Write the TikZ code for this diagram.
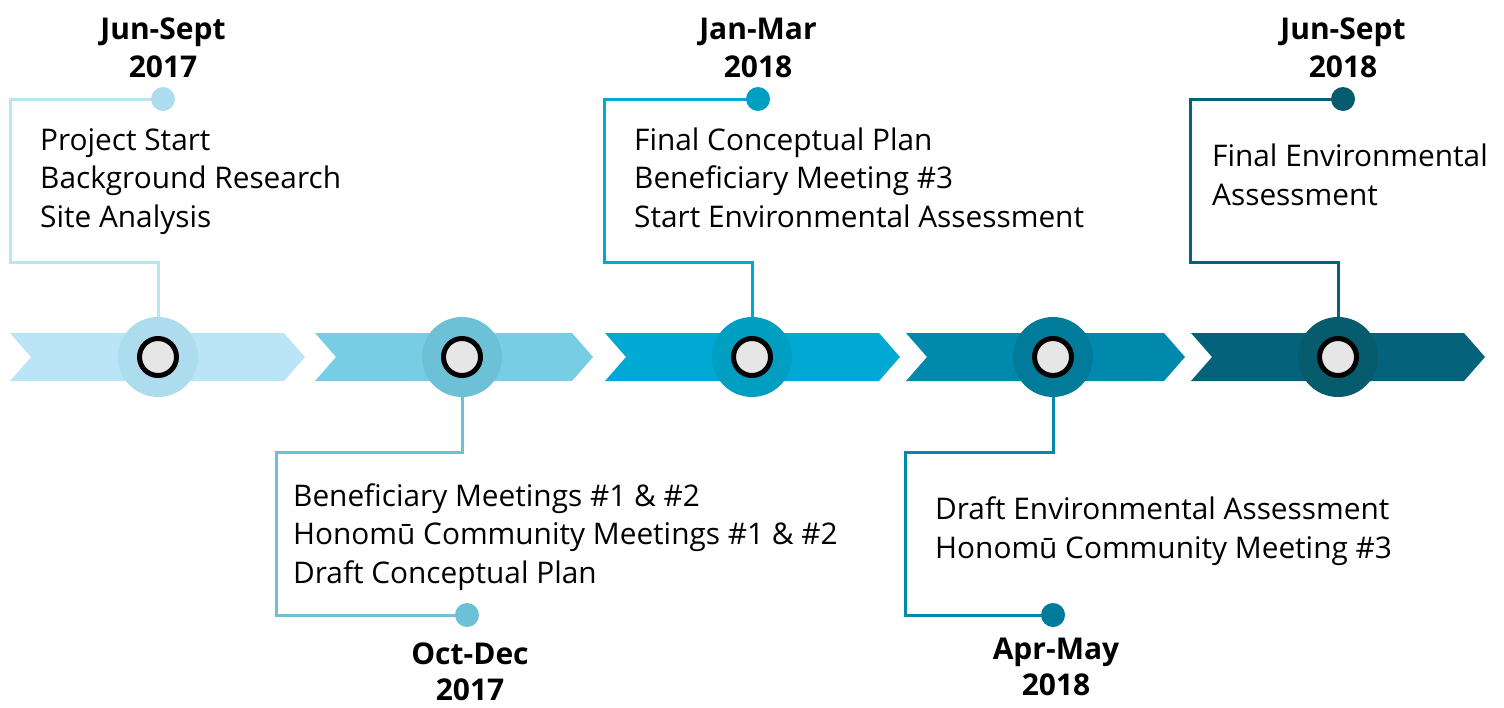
\documentclass[tikz,border=0pt]{standalone}
\usepackage{fontspec}
\setmainfont{Open Sans}
\usetikzlibrary{backgrounds}
\definecolor{chA}{HTML}{B9E5F7}\definecolor{ciA}{HTML}{ADDCEE}
\definecolor{chB}{HTML}{77CDE3}\definecolor{ciB}{HTML}{6CC1D6}
\definecolor{chC}{HTML}{00A9D4}\definecolor{ciC}{HTML}{009FC2}
\definecolor{chD}{HTML}{0088AD}\definecolor{ciD}{HTML}{007B9A}
\definecolor{chE}{HTML}{04627A}\definecolor{ciE}{HTML}{065B6C}
\definecolor{hubfill}{HTML}{E6E6E6}
\tikzset{
  bigdot/.style={circle,fill=#1,minimum size=80pt,inner sep=0pt},
  hub/.style={circle,draw=black,line width=5pt,fill=hubfill,minimum size=37pt,inner sep=0pt},
  smalldot/.style={circle,fill=#1,minimum size=24pt,inner sep=0pt},
  conn/.style={draw=#1,line width=3pt},
  body/.style={font=\fontsize{29.8}{38.5}\selectfont,align=left,anchor=base west,inner sep=0pt},
  datelbl/.style={font=\fontsize{30}{36}\selectfont\bfseries,align=center,anchor=base,inner sep=0pt},
}
\newcommand{\chev}[3]{\fill[#1] (#2,333) -- (#3-21,333) -- (#3,357) -- (#3-21,381) -- (#2,381) -- (#2+21,357) -- cycle;}
\begin{document}
\begin{tikzpicture}[x=1pt,y=-1pt]
\useasboundingbox (0,0) rectangle (1504,707);
% hubs
\node[bigdot=ciA] (b1) at (158,357) {};
\node[bigdot=ciB] (b2) at (462,357) {};
\node[bigdot=ciC] (b3) at (752,357) {};
\node[bigdot=ciD] (b4) at (1053,357) {};
\node[bigdot=ciE] (b5) at (1338,357) {};
\foreach \i/\x in {1/158,2/462,3/752,4/1053,5/1338} \node[hub] (h\i) at (\x,357) {};
% small dots
\node[smalldot=ciA] (d1) at (163,99) {};
\node[smalldot=ciB] (d2) at (467,615) {};
\node[smalldot=ciC] (d3) at (758,99) {};
\node[smalldot=ciD] (d4) at (1053,615) {};
\node[smalldot=ciE] (d5) at (1343,99) {};
% corner coordinates
\coordinate (k1) at (10,262);
\coordinate (k2) at (276,452);
\coordinate (k3) at (604,262);
\coordinate (k4) at (905,452);
\coordinate (k5) at (1190,262);
\begin{pgfonlayer}{background}
\fill[white] (0,0) rectangle (1504,707);
\chev{chA}{10}{305}
\chev{chB}{315}{593}
\chev{chC}{605}{900}
\chev{chD}{906}{1185}
\chev{chE}{1191}{1485}
\draw[conn=chA] (b1.center) |- (k1) |- (d1.center);
\draw[conn=ciB] (b2.center) |- (k2) |- (d2.center);
\draw[conn=chC] (b3.center) |- (k3) |- (d3.center);
\draw[conn=chD] (b4.center) |- (k4) |- (d4.center);
\draw[conn=chE] (b5.center) |- (k5) |- (d5.center);
\end{pgfonlayer}
% dates (base = last line)
\node[datelbl,font=\fontsize{30}{38}\selectfont\bfseries] (t1) at (163,77) {Jun-Sept\\2017};
\node[datelbl] (t2) at (470,700) {Oct-Dec\\2017};
\node[datelbl,font=\fontsize{30}{38}\selectfont\bfseries] (t3) at (758,77) {Jan-Mar\\2018};
\node[datelbl] (t4) at (1056,695) {Apr-May\\2018};
\node[datelbl,font=\fontsize{30}{38}\selectfont\bfseries] (t5) at (1343,77) {Jun-Sept\\2018};
% bodies (base = last line)
\node[body] (x1) at (40,227) {Project Start\\Background Research\\Site Analysis};
\node[body] (x2) at (293,583) {Beneficiary Meetings \#1 \& \#2\\Honomū Community Meetings \#1 \& \#2\\Draft Conceptual Plan};
\node[body] (x3) at (634,227) {Final Conceptual Plan\\Beneficiary Meeting \#3\\Start Environmental Assessment};
\node[body] (x4) at (935,558) {Draft Environmental Assessment\\Honomū Community Meeting \#3};
\node[body] (x5) at (1212,205) {Final Environmental\\Assessment};
\end{tikzpicture}
\end{document}
